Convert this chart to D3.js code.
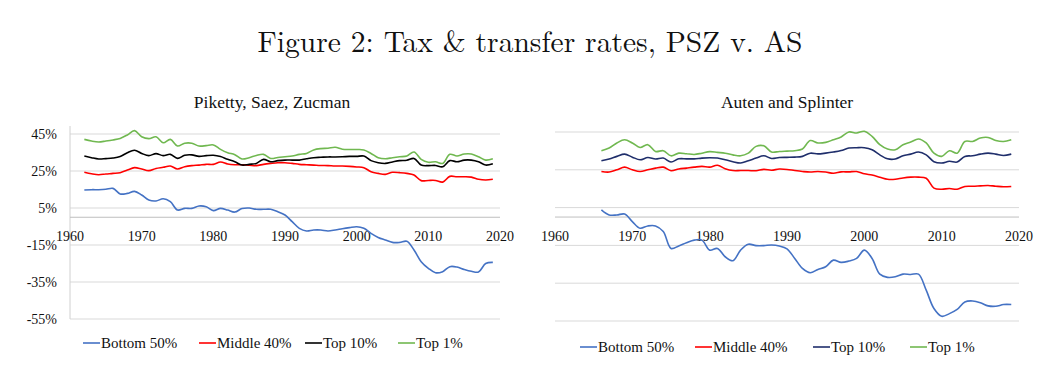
<!DOCTYPE html>
<html>
<head>
<meta charset="utf-8">
<script src="https://cdn.jsdelivr.net/npm/d3@7"></script>
<style>
  body { margin: 0; background: #fff; }
  svg { display: block; }
</style>
</head>
<body>
<div class="canvas"></div>
<script>
// ---- data ----
const pszYears = d3.range(1962, 2020);
const asYears = d3.range(1966, 2020);

const pszBottom50 = [
  14.7, 14.9, 14.9, 15.1, 15.6, 12.6, 12.9, 14.0,              // 1962-69
  12.0, 9.3, 8.8, 10.0, 8.4, 3.9, 4.8, 4.8, 6.1, 5.7,          // 1970s
  3.6, 4.8, 3.9, 2.8, 4.7, 5.0, 4.3, 4.3, 4.3, 3.0,            // 1980s
  1.2, -2.4, -6.0, -7.4, -6.9, -6.9, -7.4, -6.9, -6.2, -5.6,   // 1990s
  -5.1, -6.0, -8.7, -10.9, -12.3, -13.6, -13.6, -13.0, -17.7, -24.0, // 2000s
  -27.6, -30.0, -29.4, -26.7, -26.9, -28.2, -29.2, -29.6, -25.0, -24.4 // 2010s
];
const pszMiddle40 = [
  24.3, 23.5, 23.0, 23.4, 23.7, 24.1, 25.5, 26.8,
  26.1, 25.2, 26.4, 27.0, 27.7, 26.1, 27.3, 27.9, 28.2, 28.6,
  28.6, 29.9, 28.8, 28.4, 28.4, 28.2, 27.9, 28.6, 29.1, 29.5,
  29.5, 29.1, 28.6, 28.4, 28.2, 28.0, 27.9, 27.7, 27.7, 27.5,
  27.2, 26.8, 24.6, 23.7, 23.2, 24.3, 24.1, 23.7, 22.8, 19.8,
  19.9, 19.9, 19.0, 22.1, 21.9, 21.9, 21.7, 20.5, 20.1, 20.5
];
const pszTop10 = [
  33.1, 32.2, 31.5, 31.7, 32.0, 32.8, 34.9, 36.2,
  34.5, 33.3, 34.4, 33.3, 34.0, 31.8, 33.5, 33.7, 32.9, 33.3,
  33.5, 32.8, 31.3, 30.0, 28.2, 28.6, 29.1, 31.3, 30.0, 30.6,
  30.9, 30.9, 30.9, 31.6, 32.2, 32.4, 32.6, 32.6, 32.7, 32.9,
  32.9, 33.1, 30.6, 29.5, 29.1, 29.9, 30.6, 30.8, 31.8, 28.2,
  27.9, 28.0, 27.3, 30.6, 30.0, 30.9, 30.9, 30.0, 28.2, 28.9
];
const pszTop1 = [
  42.1, 41.2, 40.7, 41.2, 41.8, 42.6, 44.5, 46.8,
  43.5, 42.5, 43.5, 40.3, 42.1, 38.5, 40.0, 40.0, 38.5, 38.7,
  39.1, 36.7, 34.9, 33.8, 31.5, 32.2, 33.4, 34.0, 31.8, 32.3,
  32.7, 33.1, 34.0, 34.5, 36.4, 37.1, 37.3, 37.8, 36.8, 36.6,
  36.6, 36.4, 34.5, 32.2, 31.6, 32.2, 32.7, 33.1, 35.3, 31.3,
  29.7, 30.0, 29.1, 34.0, 33.1, 34.2, 34.2, 32.7, 30.9, 31.6
];

const asBottom50 = [
  3.8, 1.1, 1.1, 1.6,                                          // 1966-69
  -2.4, -5.9, -4.7, -4.7, -7.7, -16.6, -15.3, -13.6, -12.2, -12.2,
  -17.5, -16.6, -21.0, -23.1, -17.5, -14.4, -15.1, -15.1, -14.8, -15.3,
  -16.8, -21.9, -27.2, -29.5, -27.7, -26.3, -22.8, -24.0, -23.3, -21.9,
  -17.5, -21.9, -30.2, -31.9, -31.6, -30.2, -30.4, -30.2, -38.7, -48.4,
  -52.5, -51.1, -48.9, -44.9, -44.4, -45.3, -47.0, -47.2, -46.3, -46.3
];
const asMiddle40 = [
  24.1, 23.8, 25.0, 26.4,
  25.0, 24.1, 25.0, 25.9, 26.4, 24.5, 25.4, 25.9, 26.4, 26.8,
  26.4, 27.4, 25.6, 24.6, 24.6, 24.6, 24.5, 25.2, 24.8, 25.4,
  25.2, 24.6, 24.1, 23.8, 24.1, 23.8, 23.2, 23.9, 23.9, 24.1,
  22.9, 22.2, 21.1, 20.0, 20.0, 20.7, 21.1, 21.1, 20.5, 15.3,
  14.7, 15.1, 14.7, 16.2, 16.3, 16.5, 16.7, 16.3, 16.0, 16.2
];
const asTop10 = [
  29.8, 30.7, 32.1, 33.3,
  31.7, 30.3, 31.5, 30.7, 31.2, 29.1, 30.8, 30.8, 30.8, 31.2,
  31.4, 31.2, 30.3, 29.3, 28.6, 29.8, 31.2, 32.4, 31.0, 31.5,
  31.6, 31.7, 32.1, 33.8, 33.4, 33.8, 34.4, 35.2, 36.5, 36.7,
  36.7, 35.6, 32.9, 30.8, 30.7, 32.4, 33.3, 34.4, 32.9, 29.3,
  28.6, 29.5, 29.1, 32.1, 32.4, 33.3, 33.8, 33.3, 32.6, 33.3
];
const asTop1 = [
  35.1, 36.5, 39.2, 40.9,
  39.2, 36.8, 38.3, 34.7, 35.1, 32.4, 33.8, 33.5, 33.1, 33.8,
  34.6, 34.2, 33.8, 32.9, 32.4, 33.8, 37.4, 37.7, 34.4, 34.7,
  34.9, 35.1, 36.0, 40.5, 39.2, 39.5, 40.9, 42.4, 45.0, 44.5,
  45.4, 42.7, 38.3, 36.0, 35.6, 38.3, 39.7, 41.3, 39.2, 33.8,
  32.1, 35.1, 33.8, 40.0, 40.0, 41.8, 42.1, 40.5, 40.0, 40.9
];

const seriesNames = ["Bottom 50%", "Middle 40%", "Top 10%", "Top 1%"];
const yTicks = [-55, -35, -15, 5, 25, 45];
const xTicks = [1960, 1970, 1980, 1990, 2000, 2010, 2020];

const titleText = "Figure 2: Tax & transfer rates, PSZ v. AS";

// ---- drawing ----
const svg = d3.select(".canvas").append("svg").attr("width", 1043).attr("height", 370);
svg.append("rect").attr("width", 1043).attr("height", 370).attr("fill", "#fff");

const cambria = "'Liberation Serif', 'Times New Roman', serif";

const title = svg.append("text")
  .attr("x", 530).attr("y", 52)
  .attr("text-anchor", "middle")
  .attr("font-family", "'Latin Modern Roman', 'Liberation Serif', serif")
  .attr("font-size", 28)
  .attr("fill", "#111")
  .text(titleText);
// stretch font a bit to the width of the LaTeX title
const tw = title.node().getComputedTextLength();
title.attr("font-size", 28 * 545 / tw);

const panels = [
  {
    name: "Piketty, Saez, Zucman", cx: 272,
    x0: 70, x1: 500, yTop: 134, yBot: 319,
    years: pszYears, series: [pszBottom50, pszMiddle40, pszTop10, pszTop1],
    colors: ["#4472C4", "#FF0000", "#000000", "#70B850"],
    yLabels: true, yAxisLine: true,
    legend: { y: 343, items: [83, 199, 305, 398] }
  },
  {
    name: "Auten and Splinter", cx: 787,
    x0: 555, x1: 1019, yTop: 132, yBot: 321,
    years: asYears, series: [asBottom50, asMiddle40, asTop10, asTop1],
    colors: ["#4472C4", "#FF0000", "#1F2E6B", "#70B850"],
    yLabels: false, yAxisLine: false,
    legend: { y: 347, items: [580, 695, 813, 910] }
  }
];

panels.forEach(p => {
  const g = svg.append("g");
  const x = d3.scaleLinear().domain([1960, 2020]).range([p.x0, p.x1]);
  const y = d3.scaleLinear().domain([-55, 45]).range([p.yBot, p.yTop]);

  g.append("text")
    .attr("x", p.cx).attr("y", 108)
    .attr("text-anchor", "middle")
    .attr("font-family", cambria)
    .attr("font-size", 17.5)
    .attr("fill", "#111")
    .text(p.name);

  // gridlines
  g.selectAll(".grid").data(yTicks).enter().append("line")
    .attr("x1", p.x0).attr("x2", p.x1)
    .attr("y1", d => y(d)).attr("y2", d => y(d))
    .attr("stroke", "#d9d9d9").attr("stroke-width", 1);

  if (p.yAxisLine) {
    g.append("line")
      .attr("x1", p.x0).attr("x2", p.x0)
      .attr("y1", p.yTop - 8).attr("y2", p.yBot)
      .attr("stroke", "#d0d0d0");
  }
  if (p.yLabels) {
    g.selectAll(".yl").data(yTicks).enter().append("text")
      .attr("x", p.x0 - 13).attr("y", d => y(d))
      .attr("dy", "0.35em")
      .attr("text-anchor", "end")
      .attr("font-family", cambria)
      .attr("font-size", 14)
      .attr("fill", "#111")
      .text(d => d + "%");
  }

  // zero axis
  g.append("line")
    .attr("x1", p.x0).attr("x2", p.x1)
    .attr("y1", y(0)).attr("y2", y(0))
    .attr("stroke", "#bfbfbf").attr("stroke-width", 1);

  g.selectAll(".xl").data(xTicks).enter().append("text")
    .attr("x", d => x(d)).attr("y", y(0) + 19)
    .attr("dy", "0.35em")
    .attr("text-anchor", "middle")
    .attr("font-family", cambria)
    .attr("font-size", 14)
    .attr("fill", "#111")
    .text(d => d);

  const line = d3.line()
    .x((d, i) => x(p.years[i]))
    .y(d => y(d))
    .curve(d3.curveCatmullRom.alpha(0.5));

  p.series.forEach((s, k) => {
    g.append("path")
      .datum(s)
      .attr("d", line)
      .attr("fill", "none")
      .attr("stroke", p.colors[k])
      .attr("stroke-width", 1.6)
      .attr("stroke-linejoin", "round");
  });

  // legend
  seriesNames.forEach((n, k) => {
    const lx = p.legend.items[k];
    g.append("line")
      .attr("x1", lx).attr("x2", lx + 17)
      .attr("y1", p.legend.y).attr("y2", p.legend.y)
      .attr("stroke", p.colors[k]).attr("stroke-width", 1.6);
    g.append("text")
      .attr("x", lx + 18).attr("y", p.legend.y)
      .attr("dy", "0.35em")
      .attr("font-family", cambria)
      .attr("font-size", 15)
      .attr("fill", "#111")
      .text(n);
  });
});
</script>
</body>
</html>
